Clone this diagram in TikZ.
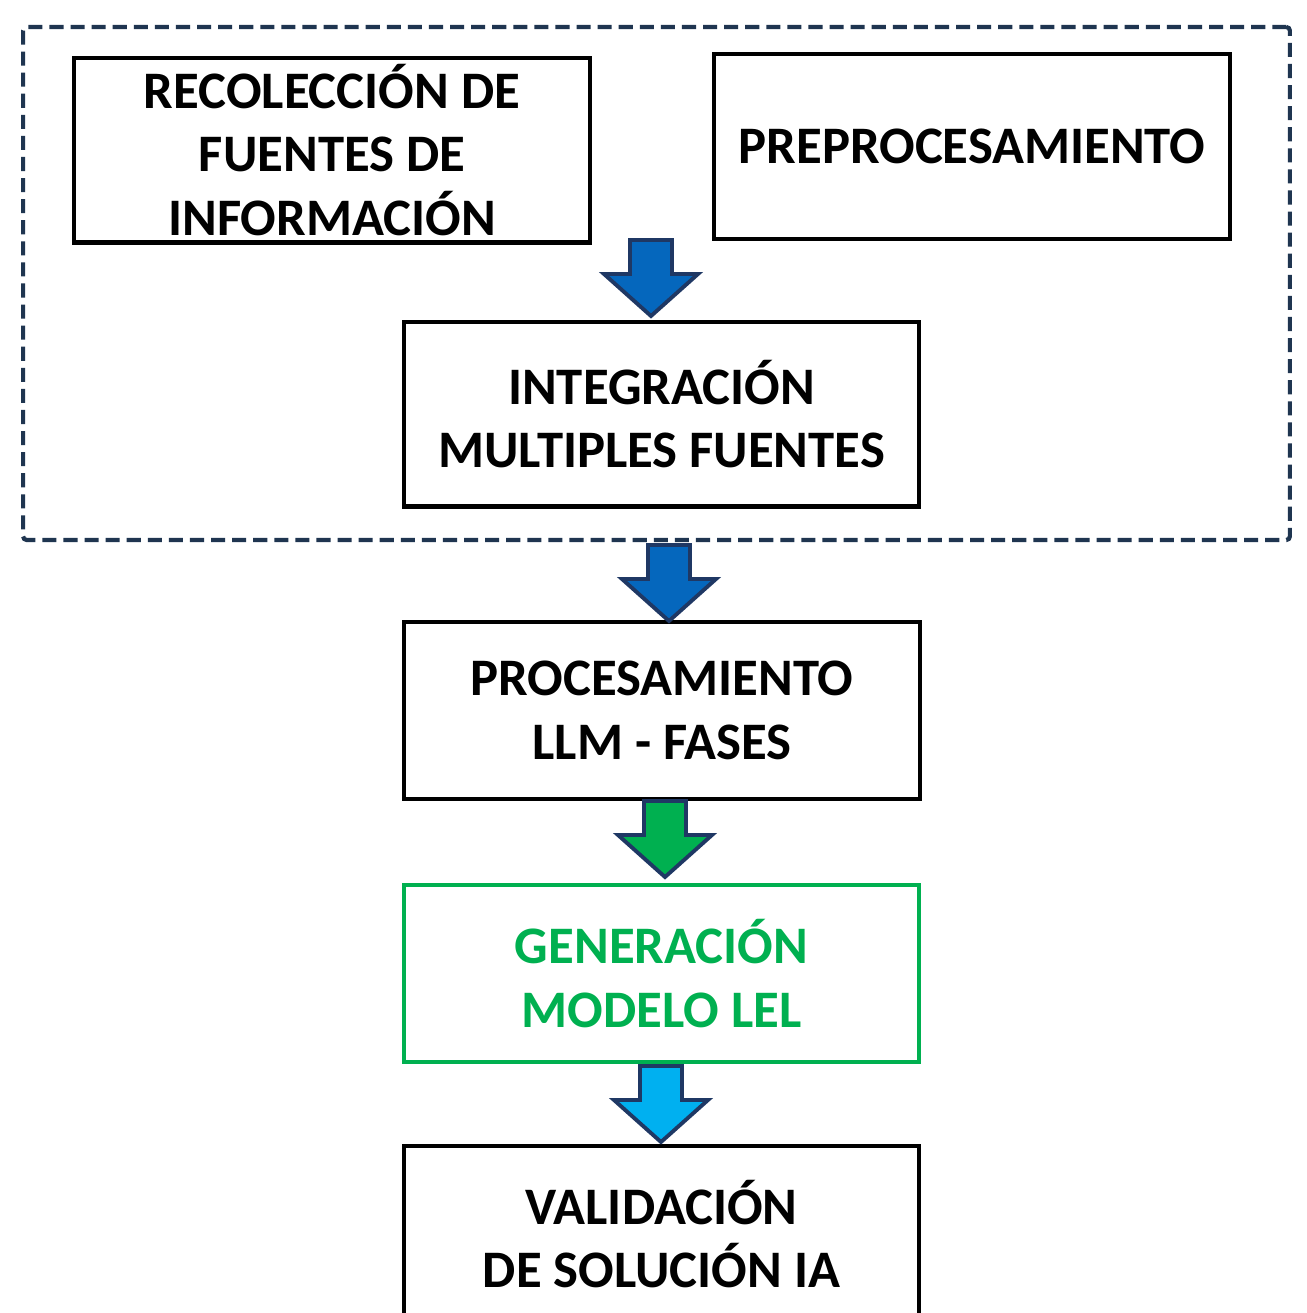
\documentclass[tikz,border=0pt]{standalone}
\usepackage{fontspec}
\setmainfont{Carlito}
\definecolor{navy}{HTML}{1F3550}
\definecolor{darkblue}{HTML}{0567BD}
\definecolor{mygreen}{HTML}{00B050}
\definecolor{lightblue}{HTML}{00B0F0}
\definecolor{arrowline}{HTML}{1F3864}
\tikzset{
  box/.style={draw=black, line width=2.3pt, minimum width=10.32cm, minimum height=3.7cm,
    align=center, font=\fontsize{30}{36}\selectfont\bfseries, inner sep=0pt},
  greenbox/.style={box, draw=mygreen, text=mygreen},
  pics/blockarrow/.style={code={
    \draw[draw=arrowline, line width=2.2pt, line join=miter, fill=#1]
      (-21,0) -- (21,0) -- (21,34) -- (47,34) -- (0,76) -- (-47,34) -- (-21,34) -- cycle;
  }}
}
\begin{document}
\begin{tikzpicture}[x=0.02cm, y=-0.02cm]
\useasboundingbox (0,0) rectangle (1307,1313);
\clip (0,0) rectangle (1307,1313);
\fill[white] (0,0) rectangle (1307,1313);
% dashed frame
\node[draw=navy, line width=2.4pt, dash pattern=on 8pt off 4pt, rounded corners=2pt, minimum width=25.34cm, minimum height=10.26cm, inner sep=0pt] (frame) at (656.5,283.5) {};
% boxes
\node[box] (recol) at (332,150) {RECOLECCIÓN DE\\FUENTES DE\\INFORMACIÓN};
\node[box] (prep) at (972,146.5) {PREPROCESAMIENTO};
\node[box] (integ) at (661.5,414) {INTEGRACIÓN\\MULTIPLES FUENTES};
\node[box, minimum height=3.54cm] (proc) at (662,710.5) {PROCESAMIENTO\\LLM - FASES};
\node[greenbox, minimum height=3.54cm] (gen) at (661.5,973.5) {GENERACIÓN\\MODELO LEL};
\node[box, minimum height=4cm] (valid) at (661.5,1246) {};
\node[font=\fontsize{30}{36}\selectfont\bfseries, align=center] (validtxt) at (661.5,1234) {VALIDACIÓN\\DE SOLUCIÓN IA};
% arrows
\pic at (651,240) {blockarrow=darkblue};
\pic at (669,545) {blockarrow=darkblue};
\pic at (665,801) {blockarrow=mygreen};
\pic at (661,1066) {blockarrow=lightblue};
\end{tikzpicture}
\end{document}
